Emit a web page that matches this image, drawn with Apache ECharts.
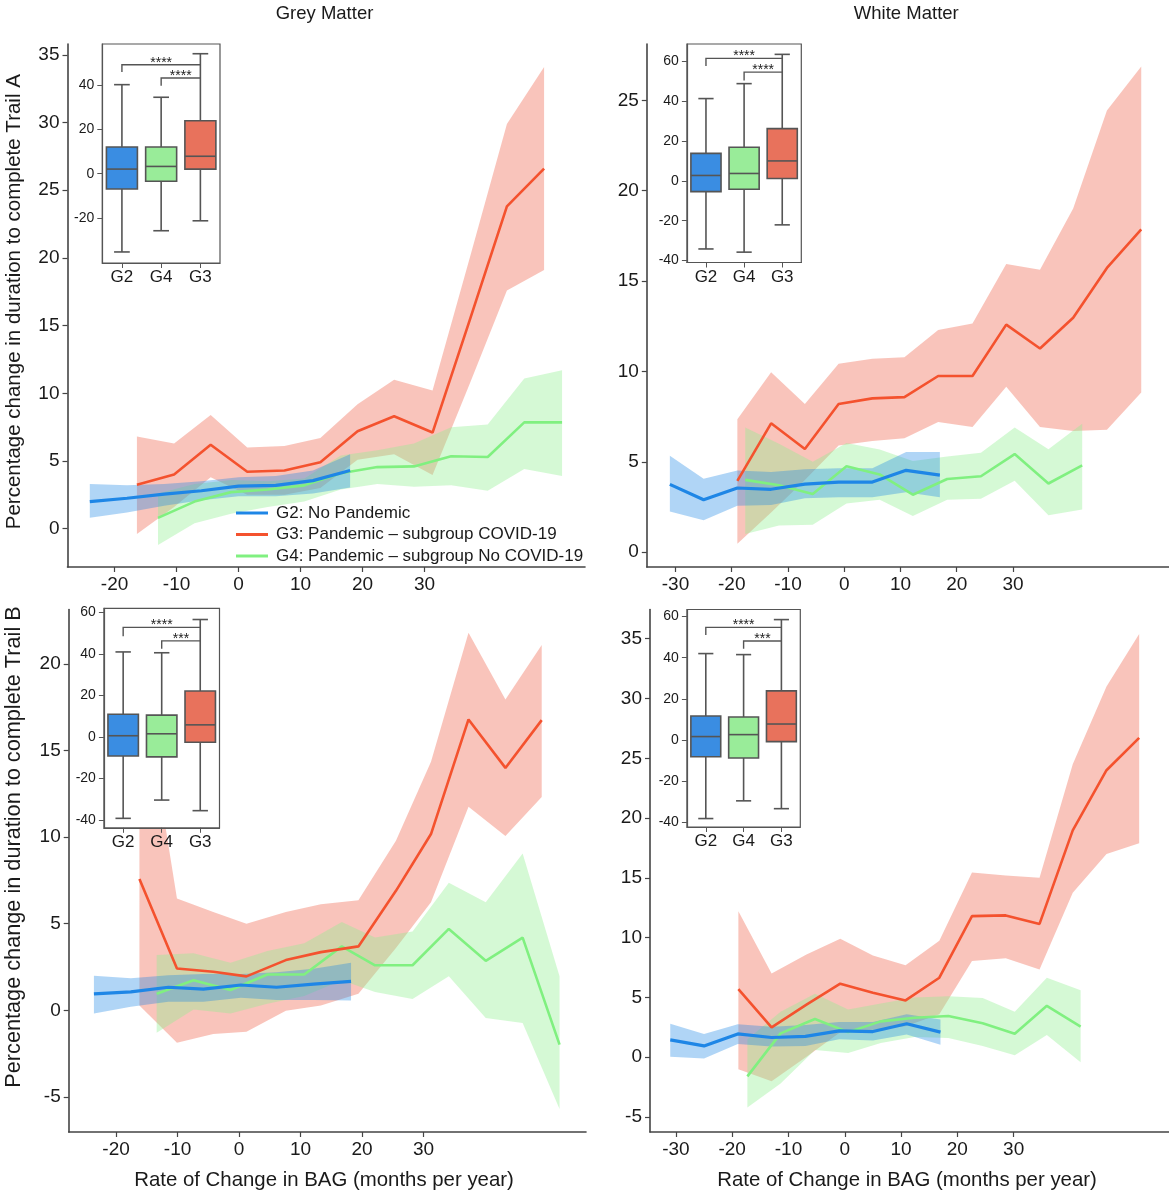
<!DOCTYPE html>
<html><head><meta charset="utf-8">
<script src="https://cdn.jsdelivr.net/npm/echarts@6/dist/echarts.min.js"></script>
<style>html,body{margin:0;padding:0;background:#fff}#c{width:1169px;height:1200px}</style>
</head><body><div id="c"></div>
<script>
// ---------- labels ----------
const seriesNames = ['G2: No Pandemic', 'G3: Pandemic \u2013 subgroup COVID-19', 'G4: Pandemic \u2013 subgroup No COVID-19'];
const boxCats = ['G2', 'G4', 'G3'];
const panelTitles = ['Grey Matter', 'White Matter'];
const yTitles = ['Percentage change in duration to complete Trail A', 'Percentage change in duration to complete Trail B'];
const xTitle = 'Rate of Change in BAG (months per year)';

// ---------- tick labels ----------
const gmXTicks = [-20, -10, 0, 10, 20, 30];
const wmXTicks = [-30, -20, -10, 0, 10, 20, 30];
const gmA_yTicks = [0, 5, 10, 15, 20, 25, 30, 35];
const wmA_yTicks = [0, 5, 10, 15, 20, 25];
const gmB_yTicks = [-5, 0, 5, 10, 15, 20];
const wmB_yTicks = [-5, 0, 5, 10, 15, 20, 25, 30, 35];
const gmA_boxTicks = [-20, 0, 20, 40];
const wmA_boxTicks = [-40, -20, 0, 20, 40, 60];
const gmB_boxTicks = [-40, -20, 0, 20, 40, 60];
const wmB_boxTicks = [-40, -20, 0, 20, 40, 60];

// ---------- Grey Matter, Trail A ----------
const gmA_g2_x  = [-24, -18, -12, -6, 0, 6, 12, 18];
const gmA_g2_y  = [2.0, 2.25, 2.55, 2.8, 3.15, 3.2, 3.55, 4.3];
const gmA_g2_lo = [0.8, 1.2, 1.7, 2.1, 2.4, 2.4, 2.6, 3.05];
const gmA_g2_hi = [3.3, 3.2, 3.3, 3.5, 3.8, 3.9, 4.3, 5.5];
const gmA_g3_x  = [-16.4, -10.4, -4.5, 1.4, 7.4, 13.2, 19.2, 25.1, 31.3, 37.3, 43.3, 49.3];
const gmA_g3_y  = [3.25, 4.0, 6.2, 4.2, 4.3, 4.9, 7.2, 8.3, 7.1, 15.4, 23.8, 26.6];
const gmA_g3_lo = [-0.4, 1.6, 3.8, 2.5, 2.5, 3.0, 5.1, 5.5, 3.96, 10.7, 17.6, 19.1];
const gmA_g3_hi = [6.8, 6.3, 8.4, 6.0, 6.1, 6.7, 9.2, 11.0, 10.2, 20.0, 29.9, 34.1];
const gmA_g4_x  = [-13.0, -7.1, -1.2, 4.7, 10.6, 16.5, 22.4, 28.3, 34.3, 40.2, 46.1, 52.2];
const gmA_g4_y  = [0.8, 2.0, 2.7, 2.9, 3.2, 4.1, 4.55, 4.6, 5.35, 5.3, 7.85, 7.85];
const gmA_g4_lo = [-1.2, 0.4, 1.1, 1.6, 2.0, 2.9, 3.3, 3.1, 3.2, 2.8, 4.4, 3.9];
const gmA_g4_hi = [2.6, 3.3, 3.6, 3.5, 3.7, 5.4, 5.8, 6.3, 7.5, 7.7, 11.1, 11.7];
const gmA_boxes = [[-35.4, -6.9, 2.1, 12.1, 40.3], [-25.8, -3.4, 3.3, 12.1, 34.6], [-21.3, 2.1, 7.9, 24.0, 54.3]];
const gmA_sig = [[0, 2, 49.3, 46.0], [1, 2, 43.3, 39.8]];
const gmA_sigLabels = ['****', '****'];

// ---------- White Matter, Trail A ----------
const wmA_g2_x  = [-31, -25, -19, -13, -7, -1, 5, 11, 17];
const wmA_g2_y  = [3.75, 2.9, 3.55, 3.48, 3.77, 3.88, 3.88, 4.53, 4.26];
const wmA_g2_lo = [2.25, 1.76, 2.57, 2.61, 2.99, 3.04, 3.04, 3.31, 3.04];
const wmA_g2_hi = [5.33, 4.06, 4.52, 4.44, 4.59, 4.65, 4.65, 5.54, 5.54];
const wmA_g3_x  = [-19, -13, -7, -1, 5, 10.7, 16.7, 22.8, 28.8, 34.8, 40.7, 46.7, 52.8];
const wmA_g3_y  = [3.95, 7.13, 5.71, 8.2, 8.51, 8.58, 9.75, 9.75, 12.59, 11.27, 12.97, 15.73, 17.86];
const wmA_g3_lo = [0.46, 2.2, 4.0, 5.9, 6.15, 6.3, 7.2, 6.92, 9.15, 6.92, 6.7, 6.77, 8.83];
const wmA_g3_hi = [7.35, 9.96, 8.2, 10.42, 10.7, 10.79, 12.3, 12.65, 15.94, 15.63, 19.02, 24.44, 26.88];
const wmA_g4_x  = [-17.6, -11.6, -5.6, 0.4, 6.3, 12.2, 18.3, 24.3, 30.3, 36.3, 42.3];
const wmA_g4_y  = [4.0, 3.7, 3.22, 4.75, 4.3, 3.18, 4.05, 4.2, 5.43, 3.8, 4.8];
const wmA_g4_lo = [1.0, 1.47, 1.52, 2.7, 2.9, 2.0, 2.9, 2.95, 3.95, 2.04, 2.36];
const wmA_g4_hi = [6.9, 6.0, 5.0, 6.04, 5.68, 5.04, 5.3, 5.5, 6.9, 5.7, 7.1];
const wmA_boxes = [[-34.2, -5.4, 2.7, 13.8, 41.3], [-35.8, -4.2, 3.7, 16.9, 48.8], [-22.1, 1.15, 10.0, 26.2, 63.5]];
const wmA_sig = [[0, 2, 61.5, 57.7], [1, 2, 54.6, 50.4]];
const wmA_sigLabels = ['****', '****'];

// ---------- Grey Matter, Trail B ----------
const gmB_g2_x  = [-23.6, -17.6, -11.5, -5.8, 0.3, 6.1, 12.1, 18.2];
const gmB_g2_y  = [0.95, 1.06, 1.33, 1.22, 1.46, 1.33, 1.51, 1.67];
const gmB_g2_lo = [-0.18, 0.2, 0.5, 0.5, 0.72, 0.6, 0.6, 0.56];
const gmB_g2_hi = [2.0, 1.85, 2.03, 2.1, 2.1, 2.2, 2.4, 2.75];
const gmB_g3_x  = [-16.2, -10.1, -4.2, 1.2, 7.6, 13.3, 19.4, 25.5, 31.2, 37.3, 43.3, 49.2];
const gmB_g3_y  = [7.59, 2.41, 2.23, 1.96, 2.9, 3.36, 3.69, 6.9, 10.18, 16.8, 14.0, 16.76];
const gmB_g3_lo = [0.27, -1.87, -1.37, -1.24, -0.02, 0.27, 0.95, 3.6, 6.24, 11.76, 10.07, 12.32];
const gmB_g3_hi = [20.0, 6.46, 5.68, 5.0, 5.68, 6.13, 6.35, 9.8, 14.35, 21.8, 17.95, 21.1];
const gmB_g4_x  = [-13.4, -7.4, -1.4, 4.6, 10.6, 16.7, 22.1, 28.2, 34.1, 40.1, 46.1, 52.1];
const gmB_g4_y  = [0.95, 1.73, 1.17, 2.07, 2.07, 3.69, 2.6, 2.6, 4.7, 2.86, 4.2, -1.98];
const gmB_g4_lo = [-1.3, 0.05, -0.18, 0.38, 0.83, 1.73, 1.06, 0.65, 1.96, -0.45, -0.74, -5.7];
const gmB_g4_hi = [3.2, 3.3, 2.75, 3.42, 3.87, 5.1, 4.2, 4.55, 7.36, 6.24, 9.05, 1.96];
const gmB_boxes = [[-39.2, -9.2, 0.56, 10.9, 40.9], [-30.4, -9.6, 1.5, 10.5, 40.5], [-35.5, -2.6, 5.8, 22.1, 56.5]];
const gmB_sig = [[0, 2, 52.7, 48.4], [1, 2, 46.2, 42.4]];
const gmB_sigLabels = ['****', '***'];

// ---------- White Matter, Trail B ----------
const wmB_g2_x  = [-31, -25, -19, -13, -7, -1, 5, 11, 17];
const wmB_g2_y  = [1.45, 0.95, 1.95, 1.65, 1.75, 2.2, 2.15, 2.8, 2.1];
const wmB_g2_lo = [0.05, -0.1, 1.1, 0.9, 0.95, 1.5, 1.4, 1.9, 1.05];
const wmB_g2_hi = [2.8, 1.95, 2.75, 2.55, 2.7, 2.95, 2.95, 3.6, 3.15];
const wmB_g3_x  = [-18.9, -13, -6.8, -0.8, 5, 10.8, 16.8, 22.6, 28.6, 34.6, 40.5, 46.5, 52.3];
const wmB_g3_y  = [5.7, 2.5, 4.4, 6.15, 5.4, 4.75, 6.65, 11.8, 11.86, 11.15, 18.97, 24.0, 26.7];
const wmB_g3_lo = [-1.0, -2.0, 0.05, 2.1, 2.3, 2.6, 3.6, 8.05, 8.28, 7.33, 13.75, 17.0, 17.9];
const wmB_g3_hi = [12.2, 7.0, 8.6, 9.9, 8.5, 7.7, 9.75, 15.45, 15.2, 15.0, 24.5, 31.0, 35.4];
const wmB_g4_x  = [-17.3, -11.4, -5.3, 0.6, 6.4, 12.4, 18.4, 24.5, 30.2, 35.9, 41.9];
const wmB_g4_y  = [-1.6, 2.0, 3.2, 2.1, 3.0, 3.3, 3.45, 2.84, 1.96, 4.3, 2.57];
const wmB_g4_lo = [-4.2, -2.2, 0.6, 0.36, 1.2, 1.7, 1.6, 0.95, 0.16, 1.86, -0.42];
const wmB_g4_hi = [1.5, 3.8, 5.3, 4.0, 4.5, 5.0, 5.1, 4.95, 3.8, 6.65, 5.6];
const wmB_boxes = [[-38.1, -8.1, 1.7, 11.7, 42.0], [-29.5, -8.7, 2.65, 11.2, 41.5], [-33.3, -0.76, 7.8, 23.9, 58.5]];
const wmB_sig = [[0, 2, 54.7, 51.0], [1, 2, 48.1, 44.3]];
const wmB_sigLabels = ['****', '***'];

// ---------- styling ----------
const FONT = '"Liberation Sans", Arial, sans-serif';
const lineColors = ['#1e86e6', '#f4522e', '#80f080'];
const bandColors = ['rgba(30,136,229,0.35)', 'rgba(240,107,85,0.4)', 'rgba(144,238,144,0.38)'];
const boxColors = ['#3a8de2', '#99ec99', '#e8725c'];
const AX = '#444';

const panels = [
  { grid: {left: 67.5, top: 44, width: 517.5, height: 523}, xr: [-27.6, 55.9], yr: [-2.83, 35.8], xt: gmXTicks, yt: gmA_yTicks,
    g: [[gmA_g2_x, gmA_g2_y, gmA_g2_lo, gmA_g2_hi], [gmA_g3_x, gmA_g3_y, gmA_g3_lo, gmA_g3_hi], [gmA_g4_x, gmA_g4_y, gmA_g4_lo, gmA_g4_hi]],
    inset: {grid: {left: 102.3, top: 44, width: 117.7, height: 219}, yr: [-40.4, 58.7], yt: gmA_boxTicks, boxes: gmA_boxes, sig: gmA_sig, lab: gmA_sigLabels} },
  { grid: {left: 646.8, top: 44, width: 522, height: 523}, xr: [-35.1, 57.7], yr: [-0.82, 28.12], xt: wmXTicks, yt: wmA_yTicks,
    g: [[wmA_g2_x, wmA_g2_y, wmA_g2_lo, wmA_g2_hi], [wmA_g3_x, wmA_g3_y, wmA_g3_lo, wmA_g3_hi], [wmA_g4_x, wmA_g4_y, wmA_g4_lo, wmA_g4_hi]],
    inset: {grid: {left: 686.9, top: 44, width: 114.4, height: 218.5}, yr: [-41, 68.7], yt: wmA_boxTicks, boxes: wmA_boxes, sig: wmA_sig, lab: wmA_sigLabels} },
  { grid: {left: 68.7, top: 609.5, width: 517.3, height: 522.5}, xr: [-27.7, 56.4], yr: [-7.03, 23.15], xt: gmXTicks, yt: gmB_yTicks,
    g: [[gmB_g2_x, gmB_g2_y, gmB_g2_lo, gmB_g2_hi], [gmB_g3_x, gmB_g3_y, gmB_g3_lo, gmB_g3_hi], [gmB_g4_x, gmB_g4_y, gmB_g4_lo, gmB_g4_hi]],
    inset: {grid: {left: 103.9, top: 608.3, width: 115.6, height: 219.5}, yr: [-43.75, 61.9], yt: gmB_boxTicks, boxes: gmB_boxes, sig: gmB_sig, lab: gmB_sigLabels} },
  { grid: {left: 650, top: 609.5, width: 519, height: 522.5}, xr: [-34.6, 57.6], yr: [-6.25, 37.44], xt: wmXTicks, yt: wmB_yTicks,
    g: [[wmB_g2_x, wmB_g2_y, wmB_g2_lo, wmB_g2_hi], [wmB_g3_x, wmB_g3_y, wmB_g3_lo, wmB_g3_hi], [wmB_g4_x, wmB_g4_y, wmB_g4_lo, wmB_g4_hi]],
    inset: {grid: {left: 686.9, top: 609.5, width: 113.4, height: 217.5}, yr: [-42.2, 63.4], yt: wmB_boxTicks, boxes: wmB_boxes, sig: wmB_sig, lab: wmB_sigLabels} }
];

const grids = [], xAxes = [], yAxes = [], series = [];

function bandSeries(ai, xs, lo, hi, color) {
  return {
    type: 'custom', xAxisIndex: ai, yAxisIndex: ai, z: 1, silent: true,
    data: xs.map((x, k) => [x, lo[k], hi[k]]),
    encode: {x: 0, y: [1, 2]},
    renderItem: (params, api) => {
      if (params.dataIndex !== 0) return null;
      const top = xs.map((x, k) => api.coord([x, hi[k]]));
      const bot = xs.map((x, k) => api.coord([x, lo[k]])).reverse();
      return {type: 'polygon', shape: {points: top.concat(bot)}, style: {fill: color}};
    }
  };
}

panels.forEach((p, i) => {
  const mi = 2 * i, ii = 2 * i + 1;
  grids.push(Object.assign({outerBoundsMode: 'none', containLabel: false}, p.grid));
  grids.push(Object.assign({outerBoundsMode: 'none', containLabel: false, show: true, backgroundColor: '#fff', borderColor: '#555', borderWidth: 1.2, zlevel: 1}, p.inset.grid));

  xAxes.push({
    type: 'value', gridIndex: mi, min: p.xr[0], max: p.xr[1],
    axisLine: {show: true, onZero: false, lineStyle: {color: AX, width: 1.6}},
    axisTick: {show: true, length: 5, customValues: p.xt, lineStyle: {color: AX, width: 1.2}},
    axisLabel: {customValues: p.xt, fontSize: 19, color: '#1a1a1a', margin: 8, fontFamily: FONT},
    splitLine: {show: false}
  });
  yAxes.push({
    type: 'value', gridIndex: mi, min: p.yr[0], max: p.yr[1],
    axisLine: {show: true, onZero: false, lineStyle: {color: AX, width: 1.6}},
    axisTick: {show: true, length: 5, customValues: p.yt, lineStyle: {color: AX, width: 1.2}},
    axisLabel: {customValues: p.yt, fontSize: 19, color: '#1a1a1a', margin: 8, fontFamily: FONT},
    splitLine: {show: false}
  });
  xAxes.push({
    type: 'category', gridIndex: ii, data: boxCats, zlevel: 1, z: 5,
    axisLine: {show: true, onZero: false, lineStyle: {color: '#555', width: 1.2}},
    axisTick: {show: true, alignWithLabel: true, length: 5, lineStyle: {color: '#555'}},
    axisLabel: {fontSize: 17, color: '#1a1a1a', margin: 6, fontFamily: FONT},
    splitLine: {show: false}
  });
  yAxes.push({
    type: 'value', gridIndex: ii, min: p.inset.yr[0], max: p.inset.yr[1], zlevel: 1, z: 5,
    axisLine: {show: true, onZero: false, lineStyle: {color: '#555', width: 1.2}},
    axisTick: {show: true, length: 5, customValues: p.inset.yt, lineStyle: {color: '#555'}},
    axisLabel: {customValues: p.inset.yt, fontSize: 14, color: '#1a1a1a', margin: 8, fontFamily: FONT},
    splitLine: {show: false}
  });

  // bands: red, green, blue
  [1, 2, 0].forEach(k => {
    const d = p.g[k];
    series.push(bandSeries(mi, d[0], d[2], d[3], bandColors[k]));
  });
  // lines: green, red, blue
  [2, 1, 0].forEach(k => {
    const d = p.g[k];
    series.push({
      type: 'line', name: seriesNames[k], xAxisIndex: mi, yAxisIndex: mi,
      data: d[0].map((x, j) => [x, d[1][j]]),
      showSymbol: false, symbol: 'none', silent: true, z: 3 + (k === 0 ? 2 : k === 1 ? 1 : 0),
      lineStyle: {color: lineColors[k], width: k === 0 ? 3.2 : 2.6},
      itemStyle: {color: lineColors[k]}
    });
  });

  // boxplots
  series.push({
    type: 'custom', xAxisIndex: ii, yAxisIndex: ii, zlevel: 1, z: 10, silent: true,
    data: p.inset.boxes.map((b, k) => [k].concat(b)),
    encode: {x: 0, y: [1, 2, 3, 4, 5]},
    renderItem: (params, api) => {
      const k = api.value(0);
      const P = d => api.coord([k, api.value(d)]);
      const pMin = P(1), pQ1 = P(2), pMed = P(3), pQ3 = P(4), pMax = P(5);
      const band = api.size([1, 0])[0];
      const bw = band * 0.79, cw = band * 0.4;
      const cx = pMin[0];
      const st = {stroke: '#555', lineWidth: 1.6, fill: null};
      return {type: 'group', children: [
        {type: 'line', shape: {x1: cx, y1: pMin[1], x2: cx, y2: pQ1[1]}, style: st},
        {type: 'line', shape: {x1: cx, y1: pQ3[1], x2: cx, y2: pMax[1]}, style: st},
        {type: 'line', shape: {x1: cx - cw / 2, y1: pMin[1], x2: cx + cw / 2, y2: pMin[1]}, style: st},
        {type: 'line', shape: {x1: cx - cw / 2, y1: pMax[1], x2: cx + cw / 2, y2: pMax[1]}, style: st},
        {type: 'rect', shape: {x: cx - bw / 2, y: pQ3[1], width: bw, height: pQ1[1] - pQ3[1]}, style: {fill: boxColors[k], stroke: '#555', lineWidth: 1.6}},
        {type: 'line', shape: {x1: cx - bw / 2, y1: pMed[1], x2: cx + bw / 2, y2: pMed[1]}, style: st}
      ]};
    }
  });
  // significance brackets
  const labs = p.inset.lab;
  series.push({
    type: 'custom', xAxisIndex: ii, yAxisIndex: ii, zlevel: 1, z: 11, silent: true,
    data: p.inset.sig,
    encode: {x: [0, 1], y: [2, 3]},
    renderItem: (params, api) => {
      const a = api.coord([api.value(0), api.value(2)]);
      const b = api.coord([api.value(1), api.value(2)]);
      const d = api.coord([api.value(0), api.value(3)]);
      return {type: 'group', children: [
        {type: 'polyline', shape: {points: [d, a, b]}, style: {stroke: '#555', lineWidth: 1.4, fill: null}},
        {type: 'text', x: (a[0] + b[0]) / 2, y: a[1] + 5, style: {text: labs[params.dataIndex], fill: '#222', font: '14px ' + FONT, align: 'center', verticalAlign: 'bottom'}}
      ]};
    }
  });
});

const chart = echarts.init(document.getElementById('c'));
chart.setOption({
  animation: false,
  backgroundColor: '#fff',
  textStyle: {fontFamily: FONT},
  grid: grids, xAxis: xAxes, yAxis: yAxes, series: series,
  legend: {
    data: seriesNames, orient: 'vertical', left: 231, top: 498, icon: 'rect',
    itemWidth: 32, itemHeight: 3, itemGap: 1.5, selectedMode: false,
    textStyle: {fontSize: 17, color: '#1a1a1a', lineHeight: 20, fontFamily: FONT, padding: [0, 0, 0, 3]}
  },
  graphic: [
    {type: 'text', x: 324.5, y: 13.5, style: {text: panelTitles[0], font: '18.5px ' + FONT, fill: '#1a1a1a', align: 'center', verticalAlign: 'middle'}},
    {type: 'text', x: 906.3, y: 13.5, style: {text: panelTitles[1], font: '18.5px ' + FONT, fill: '#1a1a1a', align: 'center', verticalAlign: 'middle'}},
    {type: 'text', x: 14, y: 301.7, rotation: Math.PI / 2, style: {text: yTitles[0], font: '20.5px ' + FONT, fill: '#1a1a1a', align: 'center', verticalAlign: 'middle'}},
    {type: 'text', x: 14, y: 847, rotation: Math.PI / 2, style: {text: yTitles[1], font: '21.7px ' + FONT, fill: '#1a1a1a', align: 'center', verticalAlign: 'middle'}},
    {type: 'text', x: 324, y: 1180, style: {text: xTitle, font: '20.4px ' + FONT, fill: '#1a1a1a', align: 'center', verticalAlign: 'middle'}},
    {type: 'text', x: 907, y: 1180, style: {text: xTitle, font: '20.4px ' + FONT, fill: '#1a1a1a', align: 'center', verticalAlign: 'middle'}}
  ]
});
</script>
</body></html>
